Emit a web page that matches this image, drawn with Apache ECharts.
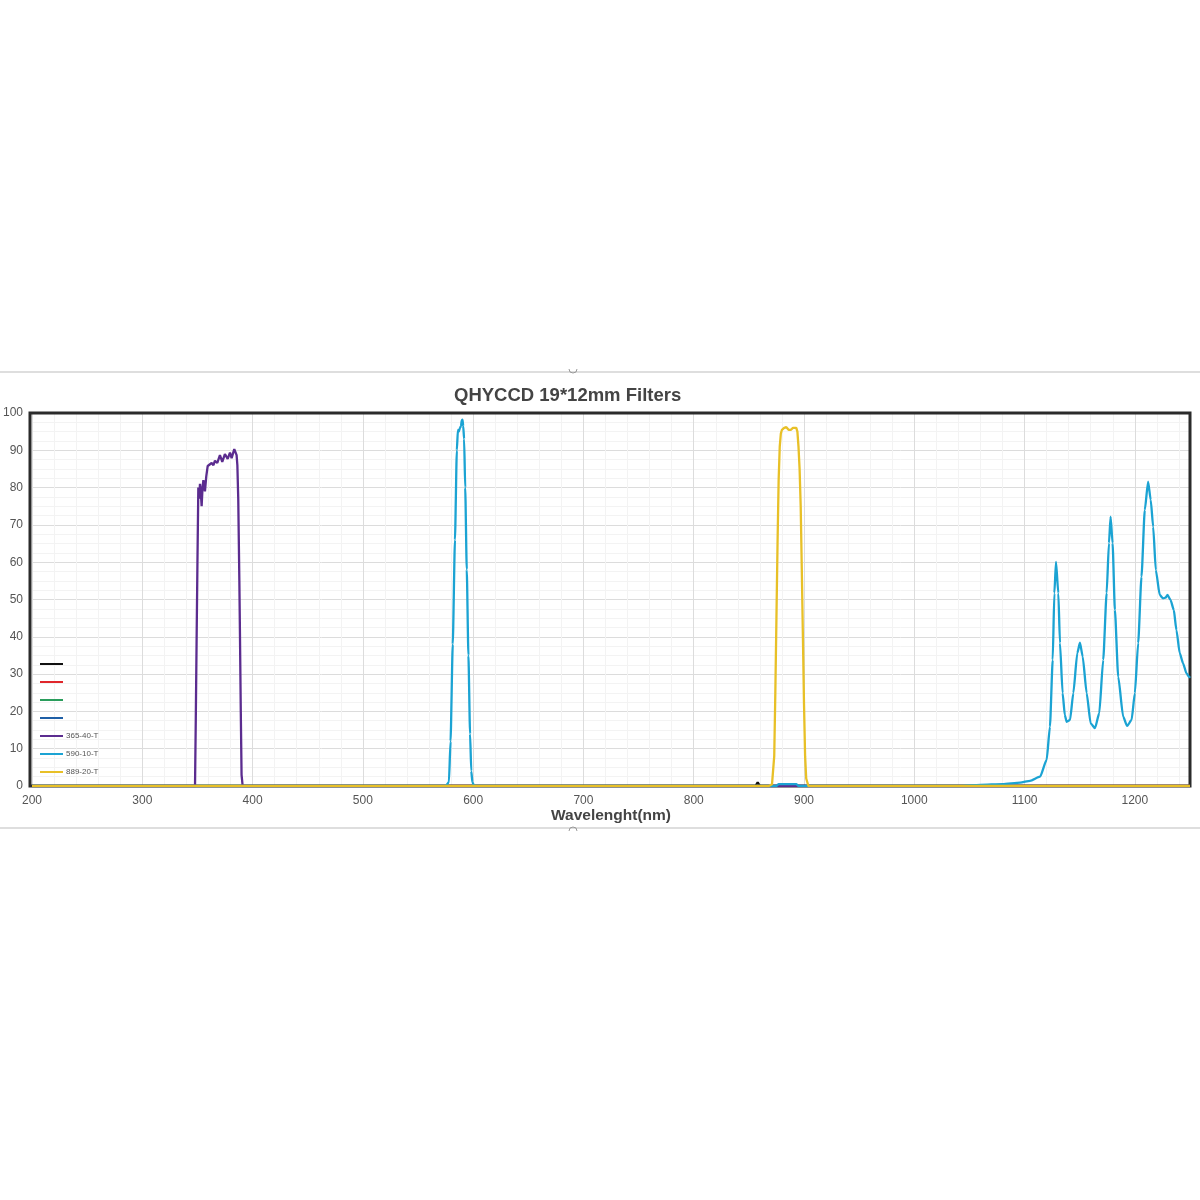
<!DOCTYPE html>
<html>
<head>
<meta charset="utf-8">
<script src="https://cdn.jsdelivr.net/npm/echarts@6/dist/echarts.min.js"></script>
<style>
  html, body { margin: 0; padding: 0; background: #fff; }
  #chart { width: 1200px; height: 1200px; }
</style>
</head>
<body>
<div id="chart"></div>
<script>
// axis ticks
let xTicks = [200, 300, 400, 500, 600, 700, 800, 900, 1000, 1100, 1200];
let yTicks = [0, 10, 20, 30, 40, 50, 60, 70, 80, 90, 100];

// legend names (first four have no label in the original)
let seriesNames = ['p1', 'p2', 'p3', 'p4', '365-40-T', '590-10-T', '889-20-T'];
let seriesColors = ['#111111', '#e0262b', '#2a9d5c', '#1f5fa6', '#5b2c8f', '#1ba3d3', '#e8c027'];

// 365-40-T
let wl365 = [200, 345, 347.8, 348.5, 349.2, 350, 350.8, 351.5, 352.3, 353, 353.8, 354.6, 355.4, 356.1, 356.8, 358,
  359.3, 361, 362.9, 364.5, 365.9, 368, 370.4, 372.5, 374.9, 377.4, 379.5, 381, 383.4, 384.5, 385.5, 386.2,
  387, 388, 388.5, 389.3, 390, 391, 1250];
let t365 = [0, 0, 0, 18, 38, 60, 80, 77, 81, 79, 75, 80, 82, 80, 79, 83,
  85.8, 86, 86.6, 86, 87.2, 86.6, 88.7, 86.9, 89, 87.7, 89.4, 87.9, 90.3, 89.8, 88.7, 86,
  77, 55, 42, 20, 3, 0, 0];

// 590-10-T
let wl590 = [200, 575, 578, 579.5, 581.5, 583.5, 585.2, 586.2, 587, 588, 589, 589.6, 590.3, 591, 591.8, 592.8, 594.2,
  595.7, 597.2, 598.3, 599.3, 601, 875, 877, 893, 895, 1040, 1060, 1080, 1096, 1105, 1114, 1120, 1123, 1125.5,
  1127, 1128.5, 1130.6, 1132.1, 1134.5, 1136.5, 1138.2, 1141.2, 1144.2, 1147.8, 1150.2, 1152.7, 1156.3,
  1159.9, 1163.8, 1167.7, 1171.3, 1174.4, 1176.5, 1178, 1179.8, 1181.9, 1184.9, 1189.4, 1193, 1197, 1200,
  1203, 1206, 1209, 1212, 1214.4, 1216.6, 1219, 1222.6, 1225.6, 1227.8, 1229.6, 1232.3, 1235.3, 1237.7,
  1240.7, 1243.7, 1246.8, 1249.2, 1250];
let t590 = [0, 0, 1, 12, 38, 66, 90, 95.5, 95, 96, 96.5, 98, 98.2, 96.5, 93, 80, 58,
  35, 14, 4, 1, 0, 0, 0.5, 0.5, 0, 0, 0.3, 0.5, 0.9, 1.4, 2.5, 7, 15.9, 33.8,
  51.7, 60.1, 51.7, 38.3, 24.9, 19, 17.2, 17.7, 24.9, 35.6, 38.4, 34.7, 24.9,
  16.8, 15.5, 19.5, 33.8, 51.7, 65.1, 72.2, 65.1, 47.2, 29.3, 18.6, 16.1, 17.7, 24.9,
  38.3, 56.1, 74, 81.6, 76.7, 69.5, 57.9, 51.2, 50.3, 50.5, 51.2, 49.9, 47.2, 41.8,
  35.6, 32.9, 30.2, 29.3, 29];

// 889-20-T
let wl889 = [200, 868, 871, 873, 874, 875, 876, 877, 878, 879, 880, 882, 884, 886, 887, 888, 890, 893,
  894, 895, 896, 897, 898, 899, 900, 901, 902, 904, 1250];
let t889 = [0, 0, 0.5, 8, 25, 45, 65, 82, 91, 94.5, 95.5, 96, 96.2, 95.5, 95, 95.5, 96, 96,
  95, 91, 85, 75, 58, 40, 22, 8, 2, 0, 0];

// small mark of the unnamed black series near the baseline
let wlBlack = [856, 858, 860];
let tBlack = [0, 1, 0];

function pairs(xs, ys) {
  return xs.map((x, i) => [x, ys[i]]);
}

let seriesData = [
  pairs(wlBlack, tBlack), [], [], [],
  pairs(wl365, t365), pairs(wl590, t590), pairs(wl889, t889)
];

// plot box in pixels
let gLeft = 30, gTop = 413, gWidth = 1160, gHeight = 373;

let chart = echarts.init(document.getElementById('chart'));

chart.setOption({
  backgroundColor: '#fff',
  animation: false,
  title: {
    text: 'QHYCCD 19*12mm Filters',
    left: 449,
    top: 381,
    textStyle: { fontFamily: 'Liberation Sans', fontWeight: 'bold', fontSize: 18.5, color: '#444' }
  },
  legend: {
    orient: 'vertical',
    left: 40,
    top: 659,
    padding: 0,
    icon: 'rect',
    itemWidth: 23,
    itemHeight: 2,
    itemGap: 8,
    data: seriesNames,
    formatter: (name) => (name.charAt(0) === 'p' ? ' ' : name),
    textStyle: { fontFamily: 'Liberation Sans', fontSize: 8, lineHeight: 10, color: '#555', padding: [0, 0, 0, -2] }
  },
  grid: {
    left: gLeft,
    top: gTop,
    width: gWidth,
    height: gHeight,
    show: true,
    borderColor: '#333',
    borderWidth: 0,
    backgroundColor: '#fff'
  },
  xAxis: {
    type: 'value',
    min: xTicks[0],
    max: 1250,
    interval: 100,
    name: 'Wavelenght(nm)',
    nameLocation: 'middle',
    nameGap: 22,
    nameTextStyle: { fontFamily: 'Liberation Sans', fontWeight: 'bold', fontSize: 15.5, color: '#444' },
    axisLine: { show: false },
    axisTick: { show: false },
    axisLabel: {
      margin: 9,
      fontFamily: 'Liberation Sans', fontSize: 12, color: '#555',
      showMaxLabel: false,
      formatter: (v) => String(v)
    },
    splitLine: { show: true, lineStyle: { color: '#dcdcdc', width: 1 } },
    minorTick: { show: false, splitNumber: 5 },
    minorSplitLine: { show: true, lineStyle: { color: '#f3f3f3', width: 1 } }
  },
  yAxis: {
    type: 'value',
    min: yTicks[0],
    max: yTicks[yTicks.length - 1],
    interval: 10,
    axisLine: { show: false },
    axisTick: { show: false },
    axisLabel: { margin: 9, fontFamily: 'Liberation Sans', fontSize: 12, color: '#555' },
    splitLine: { show: true, lineStyle: { color: '#dcdcdc', width: 1 } },
    minorTick: { show: false, splitNumber: 4 },
    minorSplitLine: { show: true, lineStyle: { color: '#f3f3f3', width: 1 } }
  },
  graphic: [
    { type: 'line', shape: { x1: 0, y1: 372, x2: 1200, y2: 372 }, style: { stroke: '#dedede', lineWidth: 2 }, z: -1 },
    { type: 'line', shape: { x1: 0, y1: 828, x2: 1200, y2: 828 }, style: { stroke: '#dedede', lineWidth: 2 }, z: -1 },
    { type: 'arc', shape: { cx: 573, cy: 369, r: 4, startAngle: 0, endAngle: Math.PI }, style: { stroke: '#999', fill: 'none', lineWidth: 1 } },
    { type: 'arc', shape: { cx: 573, cy: 831, r: 4, startAngle: Math.PI, endAngle: 2 * Math.PI }, style: { stroke: '#999', fill: 'none', lineWidth: 1 } },
    {
      type: 'rect',
      shape: { x: gLeft, y: gTop, width: gWidth, height: gHeight },
      style: { stroke: '#2b2b2b', fill: 'none', lineWidth: 3 },
      z: 1
    }
  ],
  series: seriesNames.map((name, i) => ({
    name: name,
    type: 'line',
    data: seriesData[i],
    showSymbol: false,
    smooth: i === 5 ? 0.2 : false,
    smoothMonotone: 'x',
    color: seriesColors[i],
    z: 3,
    lineStyle: { width: 2.3, color: seriesColors[i] }
  }))
});
</script>
</body>
</html>
